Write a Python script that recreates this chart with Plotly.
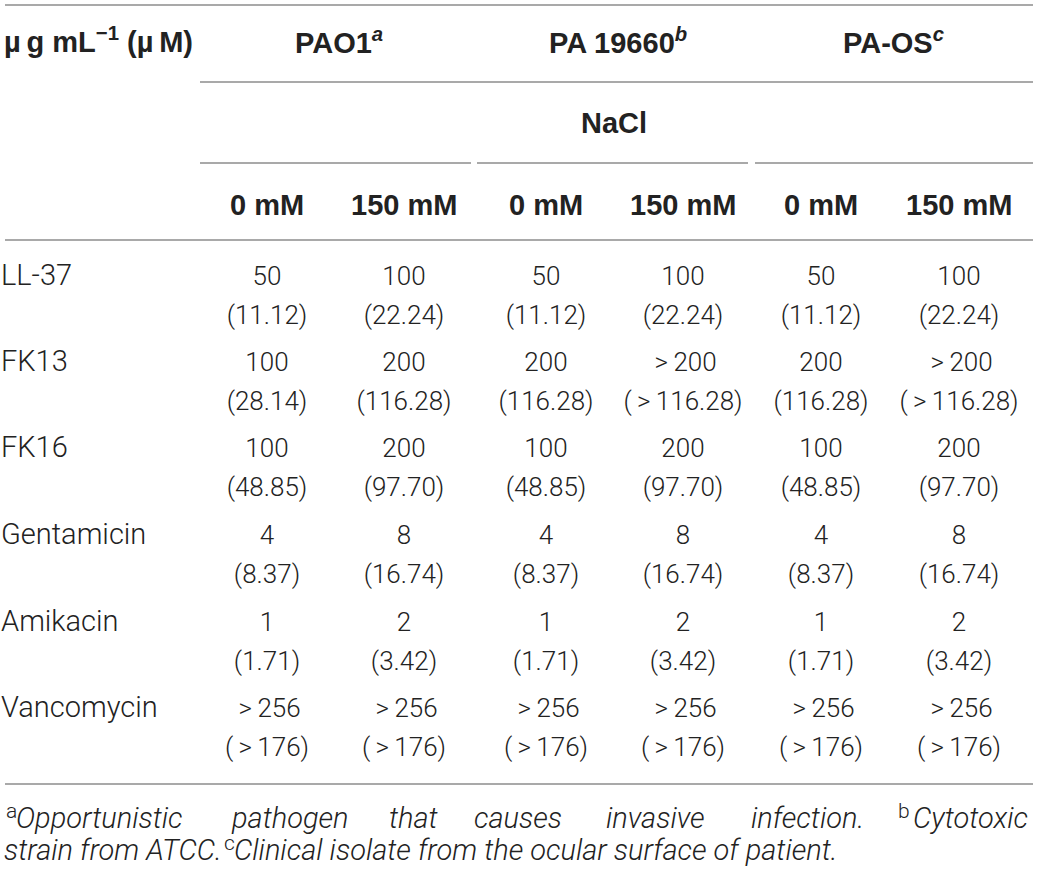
import plotly.graph_objects as go

# table content
compounds = ["LL-37", "FK13", "FK16", "Gentamicin", "Amikacin", "Vancomycin"]
strains = ["PAO1<sup><i>a</i></sup>", "PA 19660<sup><i>b</i></sup>", "PA-OS<sup><i>c</i></sup>"]
nacl_levels = ["0 mM", "150 mM", "0 mM", "150 mM", "0 mM", "150 mM"]

# MIC in ug/mL, one list per column (PAO1 0/150, PA19660 0/150, PA-OS 0/150)
mic_ug = [
    ["50", "100", "100", "4", "1", ">256"],
    ["100", "200", "200", "8", "2", ">256"],
    ["50", "200", "100", "4", "1", ">256"],
    ["100", ">200", "200", "8", "2", ">256"],
    ["50", "200", "100", "4", "1", ">256"],
    ["100", ">200", "200", "8", "2", ">256"],
]
# MIC in uM
mic_um = [
    ["11.12", "28.14", "48.85", "8.37", "1.71", ">176"],
    ["22.24", "116.28", "97.70", "16.74", "3.42", ">176"],
    ["11.12", "116.28", "48.85", "8.37", "1.71", ">176"],
    ["22.24", ">116.28", "97.70", "16.74", "3.42", ">176"],
    ["11.12", "116.28", "48.85", "8.37", "1.71", ">176"],
    ["22.24", ">116.28", "97.70", "16.74", "3.42", ">176"],
]

# layout positions (pixel-like coordinates)
col_x = [267, 404, 546, 683, 821, 959]
row_y = [278, 364, 450, 537, 624, 710]
line2_dy = 39

NUM = dict(family="Roboto", size=26, color="#222222", weight=300)
LABEL = dict(family="Roboto", size=29, color="#222222", weight=300)
BOLD = dict(family="Liberation Sans", size=29, color="#222222", weight="bold")
FOOT = dict(family="Roboto", size=29, color="#222222", weight=300)
SUP = dict(family="Roboto", size=21, color="#222222", weight=300)
RULE = "#8c8c8c"


def gt(v):
    # wider "greater than" like the typeset table
    return v.replace(">", "\u2009>\u2009")


fig = go.Figure()

# row labels
fig.add_trace(go.Scatter(
    x=[1] * len(compounds), y=row_y, text=compounds,
    mode="text", textposition="middle right", textfont=LABEL,
    hoverinfo="skip", showlegend=False, cliponaxis=False
))

# cell values, two lines each
for cx, top, bottom in zip(col_x, mic_ug, mic_um):
    fig.add_trace(go.Scatter(
        x=[cx] * len(top), y=row_y, text=[gt(v) for v in top],
        mode="text", textposition="middle center", textfont=NUM,
        hoverinfo="skip", showlegend=False
    ))
    fig.add_trace(go.Scatter(
        x=[cx] * len(bottom), y=[y + line2_dy for y in row_y],
        text=["(" + gt(v) + ")" for v in bottom],
        mode="text", textposition="middle center", textfont=NUM,
        hoverinfo="skip", showlegend=False
    ))

# header text
ann = []
ann.append(dict(x=2, y=40, text="µ\u2009g mL<sup>−1</sup> (µ\u2009M)", xanchor="left"))
for i, s in enumerate(strains):
    ann.append(dict(x=(col_x[2 * i] + col_x[2 * i + 1]) / 2 + 3, y=41, text=s, xanchor="center"))
ann.append(dict(x=614, y=123, text="NaCl", xanchor="center"))
for cx, lvl in zip(col_x, nacl_levels):
    ann.append(dict(x=cx, y=205, text=lvl, xanchor="center"))
for a in ann:
    fig.add_annotation(xref="x", yref="y", yanchor="middle", showarrow=False,
                       font=BOLD, **a)

# footnote, first line justified word by word
foot_words = [
    (14, "Opportunistic"),
    (229, "pathogen"),
    (387, "that"),
    (472, "causes"),
    (604, "invasive"),
    (749, "infection."),
]
for fx, w in foot_words:
    fig.add_annotation(x=fx, y=818, text="<i>" + w + "</i>", xanchor="left",
                       yanchor="middle", showarrow=False, font=FOOT, xref="x", yref="y")
fig.add_annotation(x=1030, y=818, text="<i>Cytotoxic</i>", xanchor="right",
                   yanchor="middle", showarrow=False, font=FOOT, xref="x", yref="y")
fig.add_annotation(x=2, y=850, text="<i>strain from ATCC.</i>", xanchor="left",
                   yanchor="middle", showarrow=False, font=FOOT, xref="x", yref="y")
fig.add_annotation(x=232, y=850, text="<i>Clinical isolate from the ocular surface of patient.</i>",
                   xanchor="left", yanchor="middle", showarrow=False, font=FOOT,
                   xref="x", yref="y")
for sx, sy, s in [(4, 811, "a"), (896, 811, "b"), (222, 843, "c")]:
    fig.add_annotation(x=sx, y=sy, text=s, xanchor="left", yanchor="middle",
                       showarrow=False, font=SUP, xref="x", yref="y")

# rules
rules = [
    (5, 5, 1033),
    (82, 200, 1033),
    (163, 200, 471), (163, 477, 748), (163, 755, 1033),
    (240, 5, 1033),
    (784, 5, 1033),
]
for ry, x0, x1 in rules:
    fig.add_shape(type="line", x0=x0, x1=x1, y0=ry, y1=ry, xref="x", yref="y",
                  line=dict(color=RULE, width=1.5))

fig.update_xaxes(range=[0, 1040], visible=False, fixedrange=True)
fig.update_yaxes(range=[876, 0], visible=False, fixedrange=True)
fig.update_layout(
    width=1040, height=876,
    margin=dict(l=0, r=0, t=0, b=0),
    plot_bgcolor="white", paper_bgcolor="white",
)

# drop the browser's default 8px page margin so the table sits at the corner
fig.write_html("out.html", config={"displayModeBar": False},
               post_script="document.body.style.margin='0px';")
